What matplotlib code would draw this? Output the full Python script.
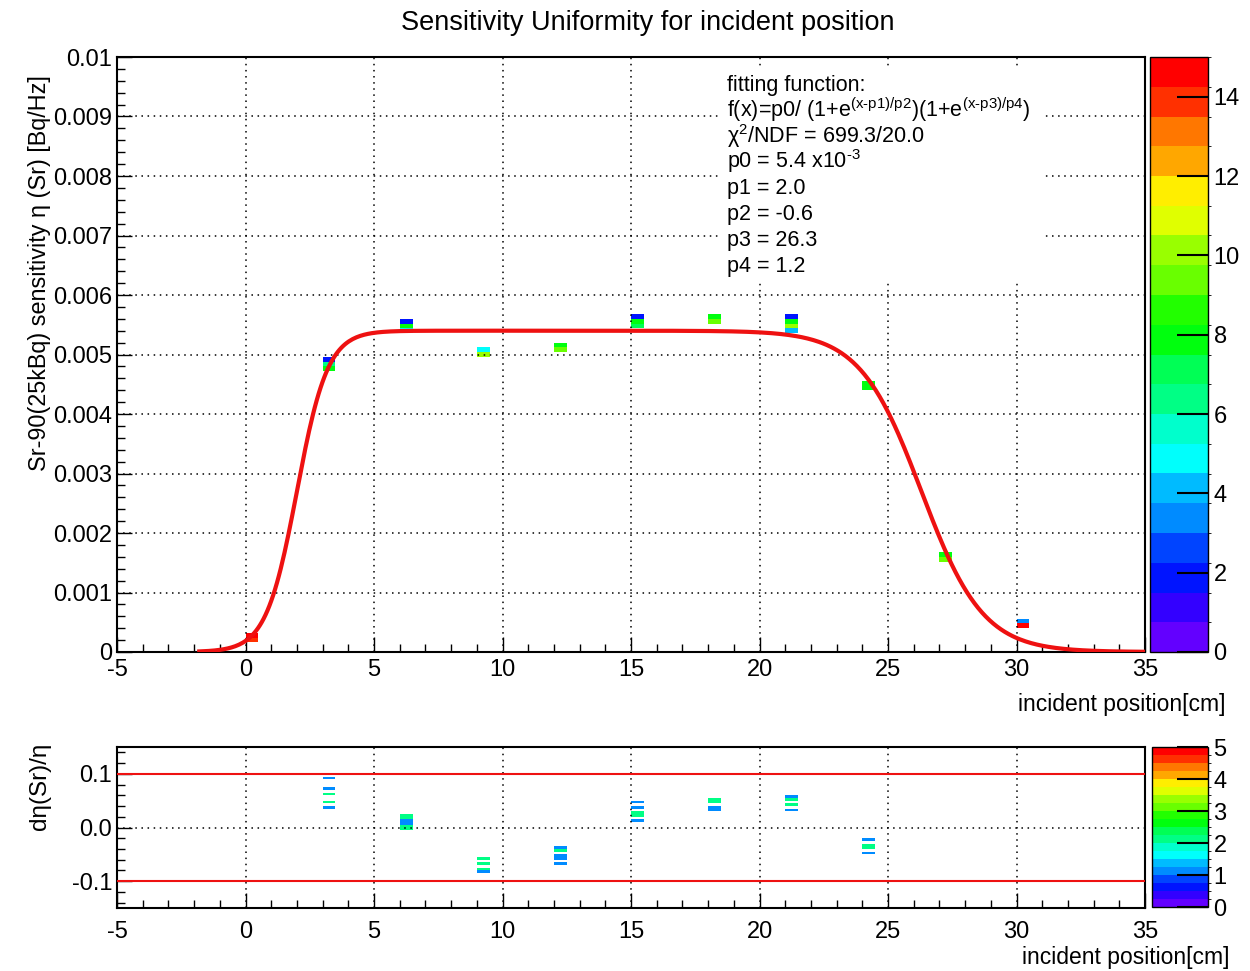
import colorsys
import numpy as np
import matplotlib
matplotlib.use('Agg')
import matplotlib.pyplot as plt
from matplotlib.colors import ListedColormap, BoundaryNorm
from matplotlib.ticker import MultipleLocator, FuncFormatter
from matplotlib.patches import Rectangle

plt.rcParams['font.family'] = ['Liberation Sans', 'DejaVu Sans']
plt.rcParams['mathtext.default'] = 'regular'
plt.rcParams['axes.unicode_minus'] = False

# ---- data: upper panel (2D histogram cells: x position, eta value, entries)
pos_x = [0.25, 0.25, 3.25, 3.25, 3.25, 6.25, 6.25, 6.25, 9.25, 9.25, 12.25, 12.25,
         15.25, 15.25, 15.25, 18.25, 18.25, 21.25, 21.25, 21.25, 21.25,
         24.25, 24.25, 27.25, 27.25, 30.25, 30.25]
eta_y = [0.00028, 0.00021, 0.00492, 0.00485, 0.00478, 0.00557, 0.00547, 0.00540,
         0.00506, 0.00499, 0.00514, 0.00507, 0.00563, 0.00553, 0.00546,
         0.00565, 0.00557, 0.00566, 0.00556, 0.00550, 0.00543,
         0.00452, 0.00446, 0.00162, 0.00157, 0.00055, 0.00046]
eta_n = [15, 14, 2, 6, 8, 2, 8, 5, 5, 10, 8, 9, 2, 8, 7, 8, 9, 2, 8, 10, 4,
         8, 8, 8, 9, 3, 15]

# ---- data: lower panel (relative deviation cells)
res_x = [3.25] * 5 + [6.25] * 6 + [9.25] * 4 + [12.25] * 5 + [15.25] * 5 \
    + [18.25] * 4 + [21.25] * 4 + [24.25] * 4
res_y = [0.094, 0.074, 0.063, 0.048, 0.036,
         0.024, 0.019, 0.014, 0.009, 0.004, -0.001,
         -0.059, -0.067, -0.075, -0.084,
         -0.036, -0.041, -0.052, -0.059, -0.067,
         0.046, 0.036, 0.028, 0.022, 0.011,
         0.054, 0.047, 0.038, 0.031,
         0.058, 0.051, 0.042, 0.033,
         -0.022, -0.031, -0.038, -0.046]
res_n = [1, 1, 2, 2, 1,
         2, 2, 1, 1, 2, 2,
         2, 2, 2, 1,
         1, 2, 1, 1, 1,
         1, 1, 2, 2, 1,
         2, 2, 1, 1,
         1, 2, 2, 1,
         1, 2, 2, 1]

# fit result
p0, p1, p2, p3, p4 = 5.4e-3, 2.0, -0.6, 26.3, 1.2
fit_lo, fit_hi = -1.8, 35.0
HY = '\u2010'
fit_lines = ['fitting function:',
             f'f(x)=p0/ (1+e$^{{(x{HY}p1)/p2}}$)(1+e$^{{(x{HY}p3)/p4}}$)',
             'χ$^{2}$/NDF = 699.3/20.0',
             f'p0 = 5.4 x10$^{{{HY}3}}$',
             'p1 = 2.0',
             'p2 = -0.6',
             'p3 = 26.3',
             'p4 = 1.2']


def root_cmap(nlev=20, ncol=50):
    pal = [colorsys.hls_to_rgb((280 - (i + 1) * 280 / ncol) / 360, 0.5, 1)
           for i in range(ncol)]
    cm = ListedColormap([pal[int((k + 0.99) * ncol / nlev)] for k in range(nlev)])
    cm.set_over(pal[-1])
    return cm


W, H = 1250, 971
fig = plt.figure(figsize=(W / 100, H / 100), dpi=100)
ax1 = fig.add_axes([117 / W, 1 - 652 / H, 1028 / W, 595 / H])
cax1 = fig.add_axes([1150 / W, 1 - 652 / H, 58 / W, 595 / H])
ax2 = fig.add_axes([117 / W, 1 - 908 / H, 1028 / W, 161 / H])
cax2 = fig.add_axes([1152 / W, 1 - 907 / H, 56 / W, 160 / H])

xedges = np.arange(-5, 35.001, 0.5)

# upper histogram
yedges = np.linspace(0, 0.01, 126)
h1, _, _ = np.histogram2d(pos_x, eta_y, bins=[xedges, yedges], weights=eta_n)
h1 = np.ma.masked_equal(h1.T, 0)
cm1 = root_cmap()
norm1 = BoundaryNorm(np.linspace(0, 15, 21), 20)
m1 = ax1.pcolormesh(xedges, yedges, h1, cmap=cm1, norm=norm1, zorder=2)

xf = np.linspace(fit_lo, fit_hi, 500)
yf = p0 / ((1 + np.exp((xf - p1) / p2)) * (1 + np.exp((xf - p3) / p4)))
ax1.plot(xf, yf, color='#ee1111', lw=3, zorder=3)

ax1.set_xlim(-5, 35)
ax1.set_ylim(0, 0.01)
ax1.xaxis.set_major_locator(MultipleLocator(5))
ax1.xaxis.set_minor_locator(MultipleLocator(1))
ax1.yaxis.set_major_locator(MultipleLocator(0.001))
ax1.yaxis.set_minor_locator(MultipleLocator(0.0002))
ax1.yaxis.set_major_formatter(FuncFormatter(lambda v, p: f'{v:.3f}'.rstrip('0').rstrip('.')))

# lower histogram
redges = np.arange(-0.15, 0.15001, 0.005)
h2, _, _ = np.histogram2d(res_x, res_y, bins=[xedges, redges], weights=res_n)
h2 = np.ma.masked_equal(h2.T, 0)
cm2 = root_cmap()
norm2 = BoundaryNorm(np.linspace(0, 5, 21), 20)
m2 = ax2.pcolormesh(xedges, redges, h2, cmap=cm2, norm=norm2, zorder=2)
for lim in (-0.1, 0.1):
    ax2.axhline(lim, color='#ee1111', lw=1.5, zorder=3)
ax2.set_xlim(-5, 35)
ax2.set_ylim(-0.15, 0.15)
ax2.xaxis.set_major_locator(MultipleLocator(5))
ax2.xaxis.set_minor_locator(MultipleLocator(1))
ax2.set_yticks([-0.1, 0.0, 0.1], ['-0.1', '0.0', '0.1'])
ax2.yaxis.set_minor_locator(MultipleLocator(0.02))

for ax, pad in ((ax1, 5), (ax2, 9)):
    ax.grid(True, which='major', color='black', ls=(0, (1, 3)), lw=1.1, zorder=1)
    ax.tick_params(which='both', direction='in', top=False, right=False,
                   labelsize=17, width=1)
    ax.tick_params(axis='x', which='both', pad=pad)
    ax.tick_params(which='major', length=11)
    ax.tick_params(which='minor', length=5.5)
    for s in ax.spines.values():
        s.set_linewidth(1.5)
    ax.set_axisbelow(False)

# colour bars
for cax, m, ticks in ((cax1, m1, range(0, 15, 2)), (cax2, m2, range(0, 6))):
    cb = fig.colorbar(m, cax=cax, ticks=list(ticks))
    cb.outline.set_linewidth(1)
    cax.tick_params(direction='in', length=22, width=1.5, labelsize=17, pad=4,
                    right=True, left=False)
    cax.set_yticklabels([str(t) for t in ticks])

# texts
fig.text(648 / W, 1 - 23 / H, 'Sensitivity Uniformity for incident position',
         ha='center', va='center', fontsize=19.5)
fig.text(1226 / W, 1 - 704 / H, 'incident position[cm]', ha='right', va='center',
         fontsize=16.5)
fig.text(1230 / W, 1 - 957 / H, 'incident position[cm]', ha='right', va='center',
         fontsize=16.5)
fig.text(40 / W, 1 - 75 / H, 'Sr-90(25kBq) sensitivity η (Sr) [Bq/Hz]',
         rotation=90, ha='center', va='top', fontsize=16.8)
fig.text(40 / W, 1 - 743 / H, 'dη(Sr)/η', rotation=90, ha='center', va='top',
         fontsize=17.5)

# stats pave (white, borderless)
fig.add_artist(Rectangle((718 / W, 1 - 282 / H), 325 / W, 214 / H,
                         transform=fig.transFigure, facecolor='white',
                         edgecolor='none', zorder=4))
for k, line in enumerate(fit_lines):
    fig.text(727 / W, 1 - (91 + 25.8 * k) / H, line, ha='left', va='baseline',
             fontsize=15.5, zorder=5)

fig.savefig('out.png', dpi=100)
